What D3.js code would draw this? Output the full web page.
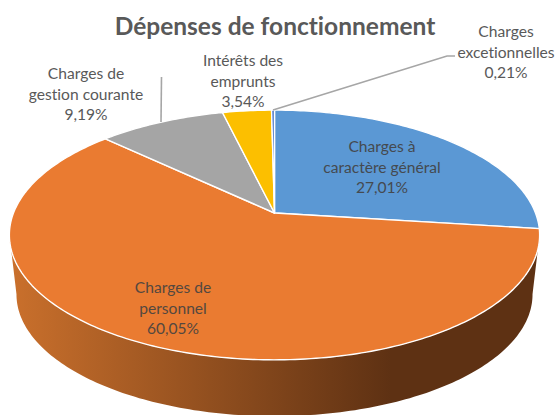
<!DOCTYPE html>
<html>
<head>
<meta charset="utf-8">
<script src="https://d3js.org/d3.v7.min.js"></script>
<style>
body { margin: 0; background: #fff; }
text { font-family: Lato, "Open Sans", sans-serif; font-variant-ligatures: none; }
</style>
</head>
<body>
<script>
const categories = [["Charges à", "caractère général"], ["Charges de", "personnel"], ["Charges de", "gestion courante"], ["Intérêts des", "emprunts"], ["Charges", "excetionnelles"]];
const values = [27.01, 60.05, 9.19, 3.54, 0.21];
const colors = ["#5b98d4", "#ea7b31", "#a5a5a5", "#fcbf00", "#4472c4"];

// label anchor (centre x, first baseline y), same order as categories
const labelX = [382, 173, 86, 243, 506];
const labelY = [152, 293, 79, 66, 37];
const labelColor = ["#454a50", "#54483f", "#595959", "#595959", "#595959"];

const width = 556;
const height = 415;
const svg = d3.select("body").append("svg")
    .attr("width", width)
    .attr("height", height)
    .style("display", "block");

// the pie is tilted in perspective so the pivot is not the ellipse centre
const k = 0.176;
const px = 274.5;
const top_ = { py: 213, rx: 261, ry: 121 };
const bottom_ = { py: 273, rx: 254, ry: 118 };
const project = (a, p) => {
    const X = Math.sin(a), Y = -Math.cos(a), w = 1 - k * Y;
    return [px + p.rx * X / w, p.py + p.ry * Y / w];
};
const rim = (a0, a1, p) => {
    const n = Math.max(2, Math.ceil(Math.abs(a1 - a0) * 60));
    return d3.range(n + 1).map(i => project(a0 + (a1 - a0) * i / n, p));
};
const line = d3.line();
const rad = d => d * Math.PI / 180;

const grad = svg.append("defs").append("linearGradient")
    .attr("id", "wall").attr("gradientUnits", "userSpaceOnUse")
    .attr("x1", 10).attr("x2", 540).attr("y1", 0).attr("y2", 0);
grad.append("stop").attr("offset", 0).attr("stop-color", "#ca702c");
grad.append("stop").attr("offset", 0.72).attr("stop-color", "#5e3113");
grad.append("stop").attr("offset", 1).attr("stop-color", "#5e3113");

// side wall
const wall = rim(rad(100), rad(260), top_).concat(rim(rad(260), rad(100), bottom_));
svg.append("path").attr("d", line(wall) + "Z").attr("fill", "url(#wall)");

// top face
const pie = d3.pie().sort(null).value(d => d)(values);
svg.append("g").selectAll("path")
    .data(pie)
    .join("path")
    .attr("d", d => line([[px, top_.py]].concat(rim(d.startAngle, d.endAngle, top_))) + "Z")
    .attr("fill", (d, i) => colors[i])
    .attr("stroke", "#fff")
    .attr("stroke-width", 1.4)
    .attr("stroke-linejoin", "round");

// leader lines
const leader = d3.line();
svg.append("path").attr("d", leader([[161.5, 77], [161, 122]]))
    .attr("fill", "none").attr("stroke", "#a6a6a6").attr("stroke-width", 1.6);
svg.append("path").attr("d", leader([[273, 110], [447, 56], [455, 56]]))
    .attr("fill", "none").attr("stroke", "#a6a6a6").attr("stroke-width", 1.6);

// title
svg.append("text")
    .attr("x", 275).attr("y", 35)
    .attr("text-anchor", "middle")
    .attr("font-size", 24.5).attr("font-weight", 700)
    .attr("fill", "#595959")
    .text("Dépenses de fonctionnement");

// labels
const fr = d3.formatLocale({ decimal: ",", thousands: " ", grouping: [3], currency: ["", " €"] }).format(".2f");
const lh = 20.6;
const labels = svg.append("g").attr("font-size", 15.6).attr("text-anchor", "middle");
categories.forEach((c, i) => {
    const t = labels.append("text").attr("x", labelX[i]).attr("y", labelY[i]).attr("fill", labelColor[i]);
    c.concat(fr(values[i]) + "%").forEach((s, j) => {
        t.append("tspan").attr("x", labelX[i]).attr("dy", j ? lh : 0).text(s);
    });
});
</script>
</body>
</html>
